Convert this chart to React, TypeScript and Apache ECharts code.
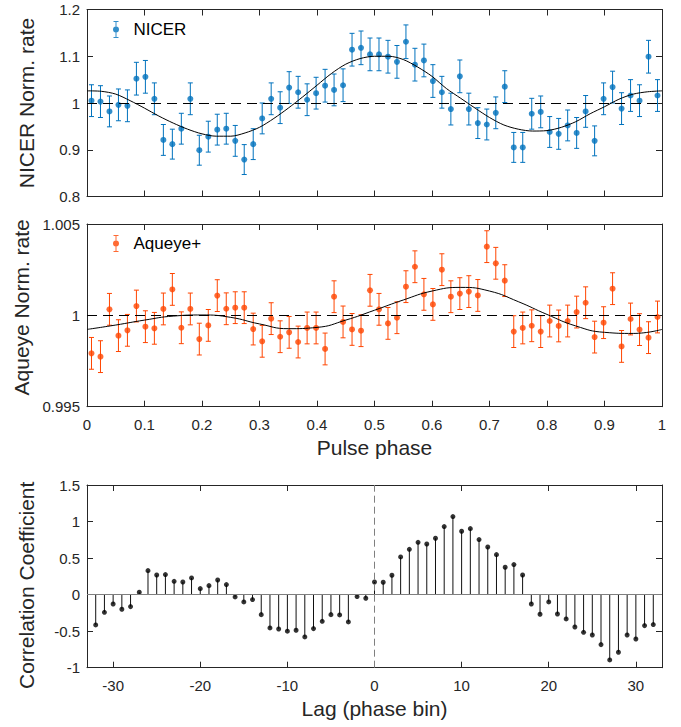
import React, { useEffect, useRef } from "react";
import * as echarts from "echarts";

const FONT = '"Liberation Sans", Arial, Helvetica, sans-serif';
const AXIS = "#262626";
const BLUE = "#0072BD";
const ORANGE = "#FF4500";

// NICER normalized rate per phase bin (64 bins)
const nicerRate = [
  1.005, 1.003, 0.982, 0.996, 0.994, 1.052, 1.056, 1.009, 0.921, 0.912,
  0.945, 1.009, 0.899, 0.928, 0.943, 0.945, 0.919, 0.879, 0.912, 0.967,
  1.009, 0.99, 1.033, 1.023, 1.007, 1.021, 1.037, 1.028, 1.038, 1.114,
  1.118, 1.104, 1.104, 1.099, 1.088, 1.131, 1.082, 1.091, 1.047, 1.023,
  0.987, 1.057, 0.987, 0.957, 0.954, 0.979, 1.035, 0.905, 0.905, 0.977,
  0.981, 0.938, 0.934, 0.952, 0.936, 0.982, 0.919, 1.009, 1.034, 0.988,
  1.016, 1.005, 1.099, 1.016,
];
const nicerErr = [
  0.034, 0.034, 0.033, 0.034, 0.034, 0.035, 0.035, 0.034, 0.033, 0.032,
  0.033, 0.034, 0.032, 0.033, 0.033, 0.033, 0.033, 0.032, 0.033, 0.033,
  0.034, 0.034, 0.034, 0.034, 0.034, 0.034, 0.035, 0.034, 0.035, 0.035,
  0.036, 0.035, 0.035, 0.035, 0.035, 0.036, 0.035, 0.035, 0.035, 0.034,
  0.034, 0.035, 0.034, 0.033, 0.033, 0.034, 0.034, 0.032, 0.032, 0.033,
  0.034, 0.033, 0.033, 0.033, 0.033, 0.034, 0.032, 0.034, 0.034, 0.034,
  0.034, 0.034, 0.035, 0.034,
];

// Aqueye+ normalized rate per phase bin (64 bins)
const aqueyeRate = [
  0.99792, 0.99774, 1.00033, 0.99889, 0.99918, 1.00051, 0.99938, 0.99929, 1.00035, 1.00142,
  0.99932, 1.00035, 0.9987, 0.99945, 1.00108, 1.00036, 1.00042, 1.00042, 0.99925, 0.99858,
  0.99982, 0.99883, 0.99907, 0.99854, 0.99931, 0.99931, 0.99816, 1.00102, 0.99964, 0.99923,
  0.99916, 1.00137, 1.00033, 0.99956, 0.99987, 1.00157, 1.00266, 1.00115, 1.0006, 1.0025,
  1.00102, 1.00119, 1.0013, 1.00109, 1.00376, 1.00285, 1.0019, 0.99911, 0.99931, 0.99943,
  0.99911, 0.99969, 0.99942, 0.99969, 1.00018, 1.00069, 0.99881, 0.9996, 1.00146, 0.9983,
  0.9998, 0.99922, 0.99878, 0.99991,
];
const AQUEYE_ERR = 0.00087;

// Fitted model curve for NICER, read at phase steps of 0.025
const nicerFitPhase = [
  0, 0.025, 0.05, 0.075, 0.1, 0.125, 0.15, 0.175, 0.2, 0.225,
  0.25, 0.275, 0.3, 0.325, 0.35, 0.375, 0.4, 0.425, 0.45, 0.475,
  0.5, 0.525, 0.55, 0.575, 0.6, 0.625, 0.65, 0.675, 0.7, 0.725,
  0.75, 0.775, 0.8, 0.825, 0.85, 0.875, 0.9, 0.925, 0.95, 0.975, 1,
];
const nicerFit = [
  1.026, 1.025, 1.019, 1.005, 0.989, 0.972, 0.957, 0.944, 0.934, 0.929,
  0.929, 0.936, 0.948, 0.967, 0.989, 1.013, 1.038, 1.063, 1.083, 1.095,
  1.1, 1.1, 1.093, 1.077, 1.057, 1.031, 1.01, 0.989, 0.969, 0.953,
  0.944, 0.94, 0.941, 0.948, 0.96, 0.977, 0.992, 1.008, 1.019, 1.024, 1.026,
];

// Fitted model curve for Aqueye+, read at phase steps of 0.05
const aqueyeFitPhase = [
  0, 0.05, 0.1, 0.15, 0.2, 0.25, 0.3, 0.35, 0.4, 0.45, 0.5,
  0.55, 0.6, 0.65, 0.7, 0.75, 0.8, 0.85, 0.9, 0.95, 1,
];
const aqueyeFit = [
  0.99923, 0.99947, 0.99974, 0.99996, 1.00002, 0.99989, 0.99953, 0.99927, 0.99934, 0.99974, 1.00028,
  1.00084, 1.00133, 1.00153, 1.00133, 1.00075, 1.00005, 0.99942, 0.99907, 0.99901, 0.99923,
];

// Cross-correlation vs lag (-32 .. 32)
const corrCoef = [
  -0.415, -0.242, -0.128, -0.2, -0.164, 0.032, 0.328, 0.269, 0.274, 0.182,
  0.173, 0.228, 0.082, 0.123, 0.2, 0.137, -0.032, -0.1, -0.068, -0.274,
  -0.456, -0.47, -0.5, -0.488, -0.579, -0.465, -0.365, -0.274, -0.278, -0.374,
  -0.027, -0.05,
  0.173, 0.169, 0.265, 0.516, 0.62, 0.716, 0.693, 0.771, 0.931, 1.068,
  0.867, 0.903, 0.753, 0.652, 0.547, 0.374, 0.411, 0.269, -0.128, -0.269,
  -0.1, -0.265, -0.333, -0.443, -0.516, -0.552, -0.684, -0.894, -0.789, -0.552,
  -0.607, -0.424, -0.41,
];
const lagTicks = [-30, -20, -10, 0, 10, 20, 30];

const phaseCenters = nicerRate.map((_, i) => (i + 0.5) / nicerRate.length);
const lags = corrCoef.map((_, i) => i - (corrCoef.length - 1) / 2);

const ERR_ICON =
  "path://M1,0H6V1H1Z M3,0H4V17H3Z M1,16H6V17H1Z M0.5,8.5A3,3 0 1,1 6.5,8.5A3,3 0 1,1 0.5,8.5Z";

function errRender(color: string) {
  return (params: any, api: any) => {
    const x = api.value(0);
    const y = api.value(1);
    const e = api.value(2);
    const top = api.coord([x, y + e]);
    const bot = api.coord([x, y - e]);
    const cap = 2.5;
    const st = { stroke: color, lineWidth: 1 };
    return {
      type: "group",
      children: [
        { type: "line", shape: { x1: top[0], y1: top[1], x2: bot[0], y2: bot[1] }, style: st },
        { type: "line", shape: { x1: top[0] - cap, y1: top[1], x2: top[0] + cap, y2: top[1] }, style: st },
        { type: "line", shape: { x1: bot[0] - cap, y1: bot[1], x2: bot[0] + cap, y2: bot[1] }, style: st },
      ],
    };
  };
}

function stemRender(params: any, api: any) {
  const x = api.value(0);
  const y = api.value(1);
  const p0 = api.coord([x, 0]);
  const p1 = api.coord([x, y]);
  return {
    type: "line",
    shape: { x1: p0[0], y1: p0[1], x2: p1[0], y2: p1[1] },
    style: { stroke: "#111", lineWidth: 1 },
  };
}

const axisLine = { show: true, onZero: false, lineStyle: { color: AXIS, width: 1 } };
const tick = { show: true, inside: true, length: 6, lineStyle: { color: AXIS, width: 1 } };
const labelStyle = { show: true, color: AXIS, fontSize: 15, fontFamily: FONT };
const nameStyle = { color: AXIS, fontSize: 21, fontFamily: FONT };

function phaseAxis(gridIndex: number, position: string, labels: boolean, name?: string) {
  return {
    type: "value",
    gridIndex,
    position,
    min: 0,
    max: 1,
    interval: 0.1,
    axisLine,
    axisTick: tick,
    splitLine: { show: false },
    axisLabel: labels ? { ...labelStyle, margin: 10 } : { show: false },
    name: name || "",
    nameLocation: "middle",
    nameGap: 30,
    nameTextStyle: nameStyle,
  };
}

function lagAxis(position: string, labels: boolean, name?: string) {
  return {
    type: "value",
    gridIndex: 2,
    position,
    min: -33,
    max: 33,
    axisLine,
    axisTick: { ...tick, customValues: lagTicks },
    splitLine: { show: false },
    axisLabel: labels ? { ...labelStyle, margin: 10, customValues: lagTicks } : { show: false },
    name: name || "",
    nameLocation: "middle",
    nameGap: 30,
    nameTextStyle: nameStyle,
  };
}

function yAx(
  gridIndex: number,
  position: string,
  min: number,
  max: number,
  interval: number,
  name?: string,
  namePad?: number[]
) {
  const left = position === "left";
  return {
    type: "value",
    gridIndex,
    position,
    min,
    max,
    interval,
    axisLine,
    axisTick: tick,
    splitLine: { show: false },
    axisLabel: left ? { ...labelStyle, margin: 7 } : { show: false },
    name: left ? name : "",
    nameLocation: "middle",
    nameGap: 50,
    nameTextStyle: { ...nameStyle, padding: namePad || [0, 0, 0, 0] },
  };
}

export default function App() {
  const ref = useRef<HTMLDivElement>(null);

  useEffect(() => {
    document.body.style.margin = "0";
    if (!ref.current) return;
    const chart = echarts.init(ref.current, null, { renderer: "svg" });

    const dashed1 = {
      silent: true,
      symbol: "none",
      label: { show: false },
      lineStyle: { color: "#000", type: [10, 6], width: 1 },
      data: [{ yAxis: 1 }],
    };

    const legendCommon = {
      left: 113,
      itemWidth: 7,
      itemHeight: 17,
      padding: 0,
      icon: ERR_ICON,
      selectedMode: false,
      textStyle: { fontSize: 17, color: "#000", fontFamily: FONT, padding: [0, 0, 0, 9] },
    };

    chart.setOption({
      animation: false,
      backgroundColor: "#fff",
      textStyle: { fontFamily: FONT },
      legend: [
        { ...legendCommon, top: 21, data: ["NICER"] },
        { ...legendCommon, top: 235, data: ["Aqueye+"] },
      ],
      grid: [
        { left: 87, right: 19, top: 9.5, bottom: 530.5 },
        { left: 87, right: 19, top: 224, bottom: 320.3 },
        { left: 87, right: 19, top: 485, bottom: 59.3 },
      ],
      xAxis: [
        phaseAxis(0, "bottom", false),
        phaseAxis(0, "top", false),
        phaseAxis(1, "bottom", true, "Pulse phase"),
        phaseAxis(1, "top", false),
        lagAxis("bottom", true, "Lag (phase bin)"),
        lagAxis("top", false),
      ],
      yAxis: [
        yAx(0, "left", 0.8, 1.2, 0.1, "NICER Norm. rate"),
        yAx(0, "right", 0.8, 1.2, 0.1),
        yAx(1, "left", 0.995, 1.005, 0.005, "Aqueye Norm. rate", [0, 0, 0, 16]),
        yAx(1, "right", 0.995, 1.005, 0.005),
        yAx(2, "left", -1, 1.5, 0.5, "Correlation Coefficient", [0, 18, 0, 0]),
        yAx(2, "right", -1, 1.5, 0.5),
      ],
      series: [
        {
          type: "custom",
          name: "nicerErr",
          xAxisIndex: 0,
          yAxisIndex: 0,
          renderItem: errRender(BLUE),
          encode: { x: 0, y: 1 },
          data: phaseCenters.map((p, i) => [p, nicerRate[i], nicerErr[i]]),
          z: 2,
        },
        {
          type: "scatter",
          name: "NICER",
          xAxisIndex: 0,
          yAxisIndex: 0,
          symbol: "circle",
          symbolSize: 6,
          itemStyle: { color: BLUE },
          data: phaseCenters.map((p, i) => [p, nicerRate[i]]),
          markLine: dashed1,
          z: 3,
        },
        {
          type: "line",
          name: "nicerFit",
          xAxisIndex: 0,
          yAxisIndex: 0,
          smooth: 0.3,
          showSymbol: false,
          lineStyle: { color: "#000", width: 1 },
          data: nicerFitPhase.map((p, i) => [p, nicerFit[i]]),
          z: 4,
        },
        {
          type: "custom",
          name: "aqueyeErr",
          xAxisIndex: 2,
          yAxisIndex: 2,
          renderItem: errRender(ORANGE),
          encode: { x: 0, y: 1 },
          data: phaseCenters.map((p, i) => [p, aqueyeRate[i], AQUEYE_ERR]),
          z: 2,
        },
        {
          type: "scatter",
          name: "Aqueye+",
          xAxisIndex: 2,
          yAxisIndex: 2,
          symbol: "circle",
          symbolSize: 6,
          itemStyle: { color: ORANGE },
          data: phaseCenters.map((p, i) => [p, aqueyeRate[i]]),
          markLine: dashed1,
          z: 3,
        },
        {
          type: "line",
          name: "aqueyeFit",
          xAxisIndex: 2,
          yAxisIndex: 2,
          smooth: true,
          showSymbol: false,
          lineStyle: { color: "#000", width: 1 },
          data: aqueyeFitPhase.map((p, i) => [p, aqueyeFit[i]]),
          z: 4,
        },
        {
          type: "custom",
          name: "stems",
          xAxisIndex: 4,
          yAxisIndex: 4,
          renderItem: stemRender,
          encode: { x: 0, y: 1 },
          data: lags.map((l, i) => [l, corrCoef[i]]),
          z: 3,
        },
        {
          type: "scatter",
          name: "corr",
          xAxisIndex: 4,
          yAxisIndex: 4,
          symbol: "circle",
          symbolSize: 5,
          itemStyle: { color: "#000" },
          data: lags.map((l, i) => [l, corrCoef[i]]),
          markLine: {
            silent: true,
            symbol: "none",
            label: { show: false },
            data: [
              { yAxis: 0, lineStyle: { color: "#7f7f7f", type: "solid", width: 1 } },
              { xAxis: 0, lineStyle: { color: "#7f7f7f", type: [7, 4], width: 1 } },
            ],
          },
          z: 4,
        },
      ],
    });

    return () => chart.dispose();
  }, []);

  return <div ref={ref} style={{ width: 681, height: 727 }} />;
}
